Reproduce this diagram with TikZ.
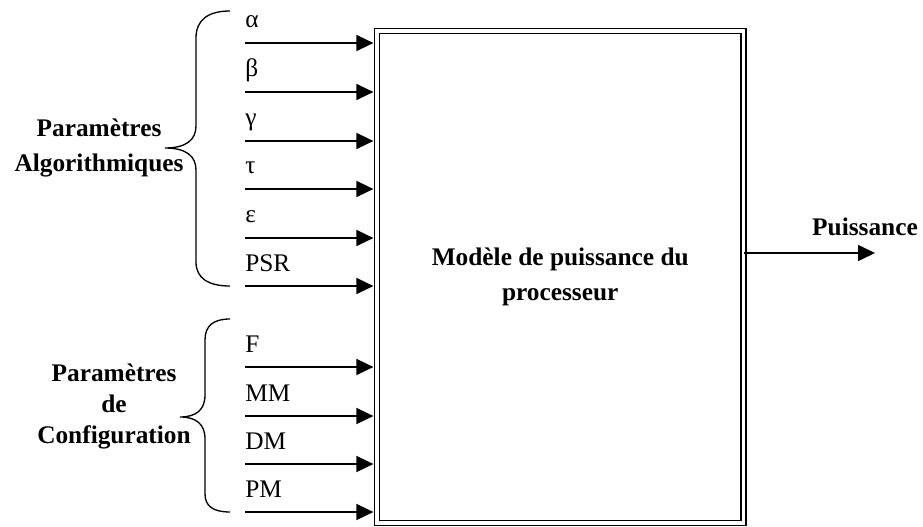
\documentclass[tikz,border=0pt]{standalone}
\usepackage{fontspec}
\setmainfont{Liberation Serif}
\usetikzlibrary{arrows.meta}
\begin{document}
\begin{tikzpicture}[x=0.75pt,y=-0.75pt,
  arr/.style={line width=1.2pt,-{Triangle[length=12.75pt,width=12pt]}},
  inlabel/.style={anchor=base west,inner sep=0pt,font=\fontsize{19}{21}\selectfont},
  brace/.style={line width=1pt},
  grp/.style={align=center,inner sep=0pt,font=\fontsize{19}{26}\selectfont\bfseries},
  model/.style={draw,line width=1pt,double,double distance=2.75pt,minimum width=274.9pt,minimum height=369pt,inner sep=0pt,align=center,font=\fontsize{19}{26.25}\selectfont\bfseries}
]
\useasboundingbox (0,0) rectangle (923,527);

\node[model] (box) at (560.25,276.75) {Modèle de puissance du\\processeur};

\foreach \y/\t [count=\i] in {43/α,92/β,141/γ,189/τ,238/ε,286/PSR,367/F,416/MM,464/DM,512/PM}{
  \coordinate (s\i) at (245,\y);
  \node[inlabel] (l\i) at (245,\y-15) {\t};
  \draw[arr,shorten >=2.2pt] (s\i) -- (s\i -| box.west);
}

\coordinate (out) at (875,253);
\draw[arr] (box.east |- out) -- (out);
\node[anchor=base,inner sep=0pt,font=\fontsize{19}{24}\selectfont\bfseries] (pu) at (865,235) {Puissance};

\draw[brace] (230,11) .. controls (208,11) and (196,20) .. (196,38) -- (196,126)
  .. controls (196,140) and (186,148) .. (165,148)
  .. controls (186,148) and (196,156) .. (196,170) -- (196,262)
  .. controls (196,278) and (208,286) .. (230,286);
\draw[brace] (230,319) .. controls (213,319) and (205,326) .. (205,340) -- (205,395)
  .. controls (205,410) and (196,417) .. (180,417)
  .. controls (196,417) and (205,424) .. (205,439) -- (205,494)
  .. controls (205,506) and (213,512) .. (230,512);

\node[grp,font=\fontsize{19}{26.25}\selectfont\bfseries] (ga) at (99,148) {Paramètres\\Algorithmiques};
\node[grp,font=\fontsize{19}{23.25}\selectfont\bfseries] (gc) at (114,406) {Paramètres\\de\\Configuration};
\end{tikzpicture}
\end{document}
